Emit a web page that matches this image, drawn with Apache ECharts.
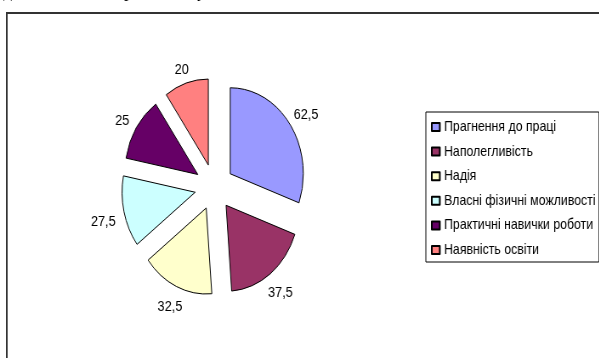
<!DOCTYPE html>
<html>
<head>
<meta charset="utf-8">
<script src="https://cdn.jsdelivr.net/npm/echarts@6/dist/echarts.min.js"></script>
<style>
html, body { margin: 0; padding: 0; background: #fff; overflow: hidden; width: 599px; height: 358px; }
#chart { position: absolute; left: 0; top: 0; width: 705px; height: 358px; transform: scaleX(0.85); transform-origin: 0 0; }
</style>
</head>
<body>
<div id="chart"></div>
<script>
const categories = ['Прагнення до праці', 'Наполегливість', 'Надія', 'Власні фізичні можливості', 'Практичні навички роботи', 'Наявність освіти'];
const values = [62.5, 37.5, 32.5, 27.5, 25, 20];
const colors = ['#9999FF', '#993366', '#FFFFCC', '#CCFFFF', '#660066', '#FF8080'];

const chart = echarts.init(document.getElementById('chart'), null, { renderer: 'canvas' });
const font = '"Liberation Sans", Arial, sans-serif';
const serif = '"Liberation Serif", "Times New Roman", serif';
const EXPLODE = 23;
const LABEL_GAP = 10;
const LABEL_BASELINE_SHIFT = 4;

// Excel-style label placement: the label box sits just outside the slice edge on its bisector.
function excelLabelLayout(p) {
  const data = chart.getModel().getSeriesByIndex(0).getData();
  const lay = data.getItemLayout(p.dataIndex);
  const m = (lay.startAngle + lay.endAngle) / 2;
  const c = Math.cos(m), s = Math.sin(m);
  const hw = p.labelRect.width / 2, hh = p.labelRect.height / 2;
  const ex = Math.min(Math.abs(c) > 1e-6 ? hw / Math.abs(c) : Infinity,
                      Math.abs(s) > 1e-6 ? hh / Math.abs(s) : Infinity);
  const d = lay.r + LABEL_GAP + ex;
  const lcx = p.labelRect.x + hw, lcy = p.labelRect.y + hh;
  return { dx: lay.cx + d * c - lcx, dy: lay.cy + d * s - lcy + LABEL_BASELINE_SHIFT };
}

chart.setOption({
  animation: false,
  backgroundColor: '#ffffff',
  color: colors,
  graphic: [
    { type: 'rect', shape: { x: 8, y: 13, width: 900, height: 500 }, style: { fill: 'none', stroke: '#333333', lineWidth: 2 }, silent: true },
    { type: 'text', x: 4, y: -9, style: { text: 'д', font: '20px ' + serif, fill: '#000', verticalAlign: 'middle' }, silent: true },
    { type: 'text', x: 146, y: -9, style: { text: 'р', font: '20px ' + serif, fill: '#000', verticalAlign: 'middle' }, silent: true },
    { type: 'text', x: 232, y: -9, style: { text: 'у', font: '20px ' + serif, fill: '#000', verticalAlign: 'middle' }, silent: true }
  ],
  legend: {
    orient: 'vertical',
    left: 501,
    top: 112,
    padding: [7, 4, 4, 6],
    itemGap: 8.6,
    itemWidth: 9.4,
    itemHeight: 8,
    icon: 'rect',
    borderColor: '#000000',
    borderWidth: 1,
    backgroundColor: '#ffffff',
    selectedMode: false,
    textStyle: { fontFamily: font, fontSize: 14.5, color: '#000', lineHeight: 16 },
    data: categories
  },
  series: [{
    type: 'pie',
    center: [252, 187],
    radius: 86,
    startAngle: 90,
    clockwise: true,
    selectedMode: 'multiple',
    selectedOffset: EXPLODE,
    avoidLabelOverlap: false,
    emphasis: { disabled: true },
    itemStyle: { borderColor: '#000000', borderWidth: 1 },
    label: {
      show: true,
      position: 'outside',
      fontFamily: font,
      fontSize: 15,
      color: '#000',
      textBorderWidth: 0,
      formatter: p => String(p.value).replace('.', ',')
    },
    labelLine: { show: false, length: 6, length2: 0 },
    labelLayout: excelLabelLayout,
    data: categories.map((c, i) => ({ name: c, value: values[i], selected: true }))
  }]
});
</script>
</body>
</html>
